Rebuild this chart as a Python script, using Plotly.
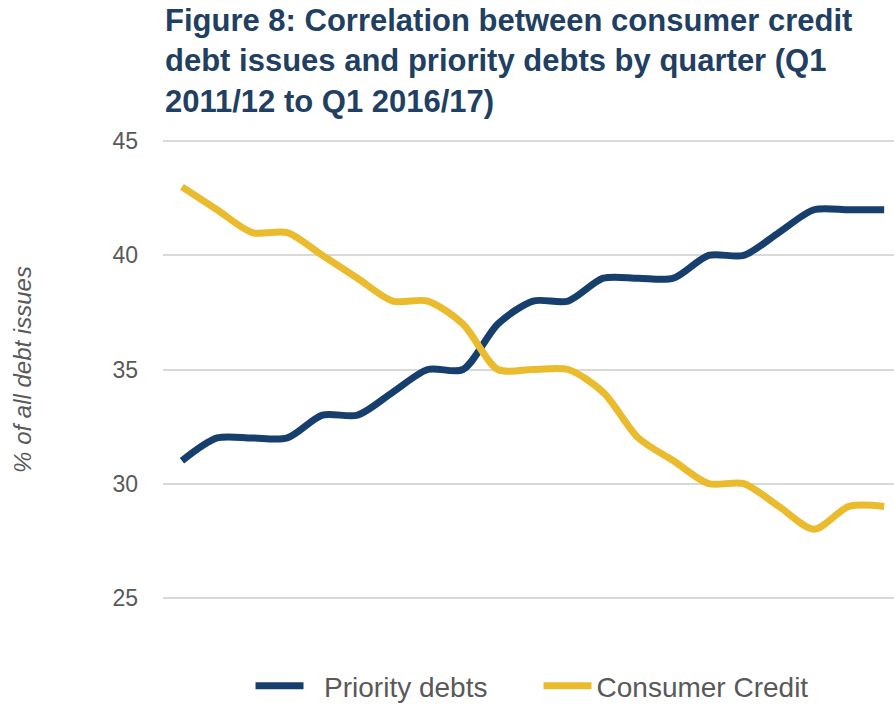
import plotly.graph_objects as go

# Quarters Q1 2011/12 .. Q1 2016/17 (21 quarters, unlabelled on the axis)
quarters = [
    "Q1 2011/12", "Q2 2011/12", "Q3 2011/12", "Q4 2011/12",
    "Q1 2012/13", "Q2 2012/13", "Q3 2012/13", "Q4 2012/13",
    "Q1 2013/14", "Q2 2013/14", "Q3 2013/14", "Q4 2013/14",
    "Q1 2014/15", "Q2 2014/15", "Q3 2014/15", "Q4 2014/15",
    "Q1 2015/16", "Q2 2015/16", "Q3 2015/16", "Q4 2015/16",
    "Q1 2016/17",
]

priority_debts = [31, 32, 32, 32, 33, 33, 34, 35, 35, 37, 38,
                  38, 39, 39, 39, 40, 40, 41, 42, 42, 42]
consumer_credit = [43, 42, 41, 41, 40, 39, 38, 38, 37, 35, 35,
                   35, 34, 32, 31, 30, 30, 29, 28, 29, 29]

y_ticks = [25, 30, 35, 40, 45]

NAVY = "#173f6e"
GOLD = "#ebbb2e"
GREY = "#595959"
FONT = "Liberation Sans, Arial, sans-serif"
NBSP = "\u00a0"

idx = list(range(len(quarters)))

fig = go.Figure()
fig.add_trace(go.Scatter(
    x=idx, y=priority_debts, name=NBSP * 2 + "Priority debts", mode="lines",
    line=dict(color=NAVY, width=7, shape="spline", smoothing=0.8),
    text=quarters, hovertemplate="%{text}: %{y}<extra></extra>",
))
fig.add_trace(go.Scatter(
    x=idx, y=consumer_credit, name="Consumer Credit", mode="lines",
    line=dict(color=GOLD, width=7, shape="spline", smoothing=0.8),
    text=quarters, hovertemplate="%{text}: %{y}<extra></extra>",
))

fig.add_annotation(
    text="<b>Figure 8: Correlation between consumer credit<br>"
         "debt issues and priority debts by quarter (Q1<br>"
         "2011/12 to Q1 2016/17)</b>",
    xref="paper", yref="paper", x=0, y=1.299,
    xanchor="left", yanchor="top", align="left", showarrow=False,
    font=dict(family=FONT, size=31, color="#1f3f63"),
)

fig.update_layout(
    width=894, height=704,
    margin=dict(l=163, r=0, t=139, b=104, autoexpand=False),
    paper_bgcolor="white", plot_bgcolor="white",
    font=dict(family=FONT, color=GREY),
    showlegend=True,
    legend=dict(
        orientation="h", x=0.5137, xanchor="center",
        yref="container", y=1 - 686 / 704, yanchor="middle",
        font=dict(family=FONT, size=28, color=GREY),
        itemwidth=48, entrywidth=225, entrywidthmode="pixels",
        tracegroupgap=0,
    ),
    xaxis=dict(
        range=[-0.54, 20.28], showgrid=False, zeroline=False,
        showticklabels=False, showline=False, ticks="",
    ),
    yaxis=dict(
        range=[24.9, 45.1], tickvals=y_ticks,
        showgrid=True, gridcolor="#d9d9d9", gridwidth=2,
        zeroline=False, showline=False, ticks="",
        tickfont=dict(family=FONT, size=23, color=GREY),
        ticklabelstandoff=24,
        title=dict(
            text="<i>% of all debt issues</i>",
            font=dict(family=FONT, size=24, color=GREY),
            standoff=74,
        ),
    ),
)

fig.write_html("out.html")
